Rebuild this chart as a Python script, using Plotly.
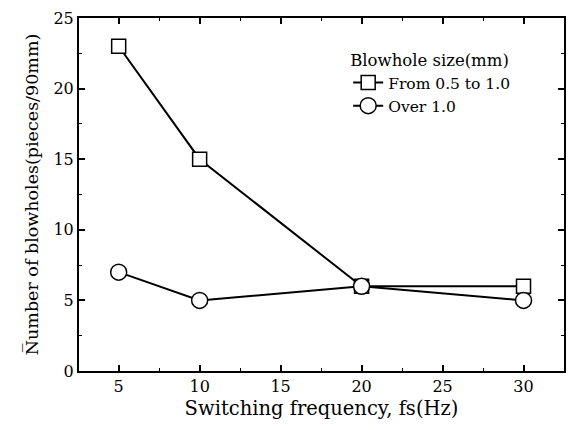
import plotly.graph_objects as go

freq = [5, 10, 20, 30]
small_holes = [23, 15, 6, 6]
large_holes = [7, 5, 6, 5]
series_names = ["From 0.5 to 1.0", "Over 1.0"]
legend_title = "Blowhole size(mm)"
x_title = "Switching frequency, fs(Hz)"
y_title = "N\u0305umber of blowholes(pieces/90mm)"

FONT = "DejaVu Serif"

fig = go.Figure()
fig.add_trace(go.Scatter(
    x=freq, y=small_holes, name=series_names[0], mode="lines+markers",
    line=dict(color="black", width=2),
    marker=dict(symbol="square", size=14, color="white", line=dict(color="black", width=1.5)),
))
fig.add_trace(go.Scatter(
    x=freq, y=large_holes, name=series_names[1], mode="lines+markers",
    line=dict(color="black", width=2),
    marker=dict(symbol="circle", size=16, color="white", line=dict(color="black", width=1.5)),
))

axis_common = dict(
    showline=True, linecolor="black", linewidth=2, mirror="ticks",
    ticks="inside", ticklen=6, tickwidth=1.5, tickcolor="black",
    showgrid=False, zeroline=False,
    tickfont=dict(family=FONT, size=16, color="black"),
)

fig.update_xaxes(
    range=[2.55, 32.5], tickmode="linear", tick0=5, dtick=5,
    minor=dict(ticks="inside", ticklen=3, dtick=2.5, tick0=5, tickcolor="black", tickwidth=1.2),
    title=dict(text=x_title, font=dict(family=FONT, size=19.5, color="black"), standoff=6),
    **axis_common,
)
fig.update_yaxes(
    range=[0, 25], tickmode="linear", tick0=0, dtick=5,
    minor=dict(ticks="inside", ticklen=3, dtick=2.5, tick0=0, tickcolor="black", tickwidth=1.2),
    title=dict(text=y_title, font=dict(family=FONT, size=17.5, color="black"), standoff=10),
    **axis_common,
)

fig.update_layout(
    width=569, height=430,
    margin=dict(l=79, r=3, t=18, b=59),
    paper_bgcolor="white", plot_bgcolor="white",
    showlegend=True,
    legend=dict(
        title=dict(text=legend_title, font=dict(family=FONT, size=16.5, color="black")),
        font=dict(family=FONT, size=15.5, color="black"),
        x=0.555, y=0.925, xanchor="left", yanchor="top",
        bgcolor="rgba(0,0,0,0)", tracegroupgap=0, itemwidth=30,
    ),
)

fig.write_html("out.html")
